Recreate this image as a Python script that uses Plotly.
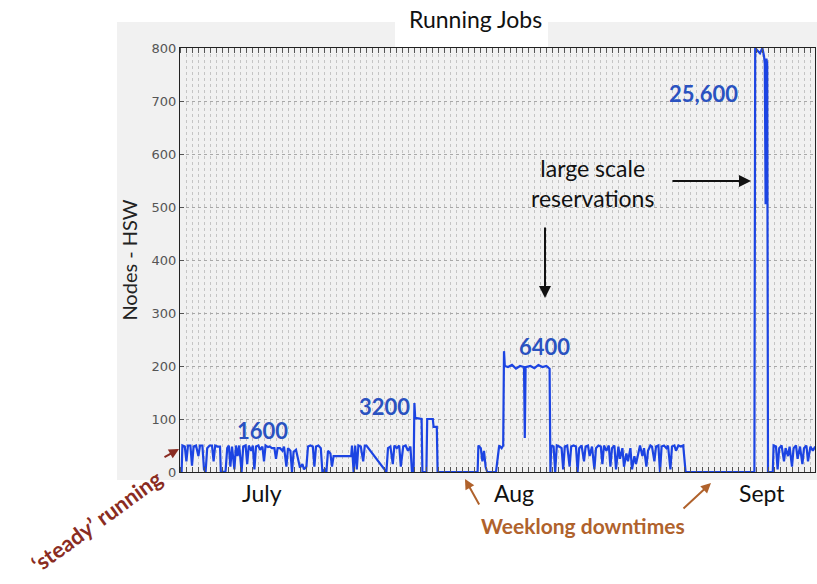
import plotly.graph_objects as go

# ---- data (x in days from start of window, y = nodes running) ----
days = [
    0.2, 0.3, 0.6, 0.8, 1.0, 1.3, 1.5, 1.7, 2.0, 2.3, 2.5, 2.8, 3.0, 3.2, 3.4, 3.7, 4.0, 4.2, 4.4, 4.7, 5.0,
    5.1, 5.4, 5.7, 5.9,
    6.1, 6.3, 6.5, 6.8, 7.0, 7.2, 7.4, 7.7, 7.9, 8.2, 8.4, 8.6, 8.9, 9.1, 9.3, 9.5, 9.8, 10.0, 10.3, 10.5, 10.7, 11.0, 11.2,
    11.5, 11.8, 12.0, 12.2, 12.5, 12.8, 13.0,
    13.3, 13.5, 13.8, 14.0, 14.2, 14.5, 14.8,
    15.0, 15.3, 15.5, 15.8,
    16.0, 16.3, 16.6, 16.8, 17.0, 17.3, 17.6, 17.8, 18.1, 18.3,
    18.5, 18.8, 19.0,
    19.2, 21.4,
    21.5, 21.7, 21.9, 22.1,
    22.3, 22.6, 22.9, 23.1, 23.3,
    25.8,
    26.0, 26.3, 26.6, 26.8, 27.1, 27.4, 27.6, 27.9, 28.2, 28.5, 28.8, 29.0,
    29.2, 29.3, 29.4, 30.2, 30.3, 30.8, 30.9, 31.6, 31.7, 32.1, 32.2,
    37.2,
    37.3, 37.6, 37.8, 38.0, 38.2, 38.4,
    39.5, 39.7, 39.9, 40.2, 40.4, 40.5,
    40.6, 41.0, 41.5, 42.0, 42.5, 43.0, 43.1, 43.2, 43.8, 44.3, 44.8, 45.3, 45.8, 46.2, 46.3,
    46.4, 46.7, 46.9, 47.1, 47.4, 47.7, 47.9, 48.1, 48.4, 48.7, 48.9, 49.2, 49.5, 49.7, 49.9, 50.2, 50.5,
    50.7, 51.0, 51.2, 51.5, 51.8, 52.0, 52.3, 52.6, 52.8, 53.0, 53.3, 53.6, 53.8, 54.0, 54.3, 54.5, 54.8,
    55.0, 55.3, 55.5, 55.8, 56.0, 56.3, 56.5, 56.8, 57.0, 57.3, 57.5, 57.8, 58.0, 58.3, 58.5, 58.8, 59.0,
    59.3, 59.5, 59.8, 60.0, 60.2, 60.5, 60.8, 61.0, 61.3, 61.5, 61.8, 62.0, 62.3, 62.6, 62.9, 63.2,
    71.8,
    71.9, 72.2, 72.5, 72.8, 73.0, 73.1, 73.2, 73.3, 73.4, 73.5,
    74.1,
    74.2, 74.5, 74.7, 74.9, 75.2, 75.5, 75.7, 76.0, 76.2, 76.5, 76.7, 77.0, 77.2, 77.5, 77.8, 78.0,
    78.3, 78.5, 78.8, 79.1, 79.4,
]
nodes = [
    0, 50, 48, 20, 50, 50, 12, 48, 50, 30, 50, 50, 5, 0, 45, 50, 50, 20, 50, 48, 48,
    2, 0, 2, 45,
    50, 10, 48, 5, 50, 30, 50, 0, 48, 50, 15, 50, 40, 50, 5, 48, 50, 42, 48, 20, 50, 47, 48,
    45, 45, 25, 45, 45, 40, 48,
    10, 45, 40, 0, 38, 42, 20,
    8, 15, 5, 10,
    48, 50, 48, 10, 48, 50, 45, 0, 5, 0,
    40, 35, 10,
    30, 30,
    50, 0, 50, 5,
    50, 48, 20, 50, 50,
    0,
    45, 48, 15, 50, 45, 50, 10, 48, 50, 40, 48, 0,
    0, 130, 102, 100, 0, 0, 100, 100, 85, 85, 0,
    0,
    50, 45, 20, 40, 10, 0,
    0, 30, 50, 45, 50, 228,
    200, 198, 202, 195, 200, 198, 64, 198, 200, 196, 202, 198, 200, 195, 0,
    50, 48, 0, 50, 48, 45, 5, 48, 50, 10, 48, 50, 48, 0, 45, 50, 20,
    48, 50, 30, 48, 5, 45, 50, 48, 15, 50, 40, 50, 10, 45, 50, 5, 48,
    25, 45, 10, 35, 20, 45, 5, 30, 15, 40, 50, 30, 45, 10, 40, 50, 48,
    20, 48, 50, 0, 48, 50, 45, 50, 5, 48, 50, 40, 50, 48, 50, 0,
    0,
    800, 795, 790, 800, 785, 770, 505, 780, 770, 0,
    0,
    50, 48, 5, 45, 50, 20, 45, 30, 48, 10, 45, 50, 25, 48, 15, 45,
    50, 20, 48, 40, 48,
]

month_pos = [9.75, 41.9, 72.5]
month_labels = ["July", "Aug", "Sept"]

W, H = 817, 584
L, R, T, B = 180, 2, 48, 112
PW, PH = W - L - R, H - T - B


def px(x):
    return (x - L) / PW


def py(y):
    return (H - B - y) / PH


LINE_BLUE = "#1c44e2"
TEXT_BLUE = "#2a52c0"
MAROON = "#8a2c22"
BROWN = "#b0622c"
FONT = "Lato, Open Sans, sans-serif"

fig = go.Figure()
fig.add_trace(go.Scatter(x=days, y=nodes, mode="lines",
                         line=dict(color=LINE_BLUE, width=2.2), hoverinfo="skip",
                         showlegend=False))

shapes = [
    dict(type="rect", xref="paper", yref="paper", x0=px(117), x1=px(817), y0=py(480), y1=py(22),
         fillcolor="#f1f1f1", line=dict(width=0), layer="below"),
    dict(type="rect", xref="paper", yref="paper", x0=px(395), x1=px(548), y0=py(48), y1=py(0),
         fillcolor="white", line=dict(width=0), layer="below"),
]

C = dict(xanchor="center", yanchor="middle")
ann = []
# title
ann.append(dict(text="Running Jobs", xref="paper", yref="paper", x=px(475), y=py(19),
                showarrow=False, font=dict(family=FONT, size=23, color="#111"), **C))
# blue scale labels
for txt, xx, yy in [("1600", 262, 430), ("3200", 384, 406), ("6400", 544, 346), ("25,600", 703, 93)]:
    ann.append(dict(text="<b>" + txt + "</b>", xref="paper", yref="paper", x=px(xx), y=py(yy),
                    showarrow=False, font=dict(family=FONT, size=22, color=TEXT_BLUE), **C))
# large scale reservations
ann.append(dict(text="large scale<br>reservations", xref="paper", yref="paper", x=px(592), y=py(183),
                showarrow=False, font=dict(family=FONT, size=23, color="#111"), **C))
ann.append(dict(text="", xref="paper", yref="paper", x=px(545), y=py(298), ax=0, ay=-72,
                showarrow=True, arrowhead=2, arrowsize=1.2, arrowwidth=2, arrowcolor="#111"))
ann.append(dict(text="", xref="paper", yref="paper", x=px(751), y=py(181), ax=-80, ay=0,
                showarrow=True, arrowhead=2, arrowsize=1.2, arrowwidth=2, arrowcolor="#111"))
# month labels
for m, xx in zip(month_labels, [262, 514, 762]):
    ann.append(dict(text=m, xref="paper", yref="paper", x=px(xx), y=py(493),
                    showarrow=False, font=dict(family=FONT, size=23, color="#111"), **C))
# steady running
ann.append(dict(text="<b>\u2018steady\u2019 running</b>", xref="paper", yref="paper", x=px(97), y=py(520),
                showarrow=False, textangle=-36, font=dict(family=FONT, size=22, color=MAROON), **C))
ann.append(dict(text="", xref="paper", yref="paper", x=px(179), y=py(449), ax=-16, ay=9,
                showarrow=True, arrowhead=2, arrowsize=1, arrowwidth=2, arrowcolor=MAROON))
# weeklong downtimes
ann.append(dict(text="<b>Weeklong downtimes</b>", xref="paper", yref="paper", x=px(583), y=py(525),
                showarrow=False, font=dict(family=FONT, size=21, color=BROWN), **C))
ann.append(dict(text="", xref="paper", yref="paper", x=px(465), y=py(479), ax=15, ay=27,
                showarrow=True, arrowhead=2, arrowsize=1, arrowwidth=2, arrowcolor=BROWN))
ann.append(dict(text="", xref="paper", yref="paper", x=px(711), y=py(483), ax=-29, ay=27,
                showarrow=True, arrowhead=2, arrowsize=1, arrowwidth=2, arrowcolor=BROWN))

fig.update_layout(
    width=W, height=H,
    margin=dict(l=L, r=R, t=T, b=B),
    paper_bgcolor="white", plot_bgcolor="white",
    shapes=shapes, annotations=ann,
    showlegend=False,
)
fig.update_xaxes(
    range=[0, 79.375], tickvals=month_pos, ticktext=["", "", ""],
    showgrid=False, zeroline=False,
    showline=True, linecolor="#222", linewidth=1, mirror="allticks",
    ticks="",
    minor=dict(dtick=0.75, tick0=0, ticks="inside", ticklen=5, tickcolor="#555",
               showgrid=True, gridcolor="#c4c4c4", griddash="dot", gridwidth=1),
)
fig.update_yaxes(
    range=[0, 800], dtick=100, tick0=0,
    showgrid=True, gridcolor="#a8a8a8", griddash="dot", gridwidth=1,
    zeroline=False, showline=True, linecolor="#222", linewidth=1, mirror=True,
    ticks="inside", ticklen=4, tickcolor="#555",
    tickfont=dict(family="DejaVu Sans, sans-serif", size=13, color="#555"),
    title=dict(text="Nodes - HSW", font=dict(family=FONT, size=20, color="#222"), standoff=8),
)

fig.write_html("out.html",
               config={"displayModeBar": False},
               post_script="document.body.style.margin='0';document.body.style.overflow='hidden';")
